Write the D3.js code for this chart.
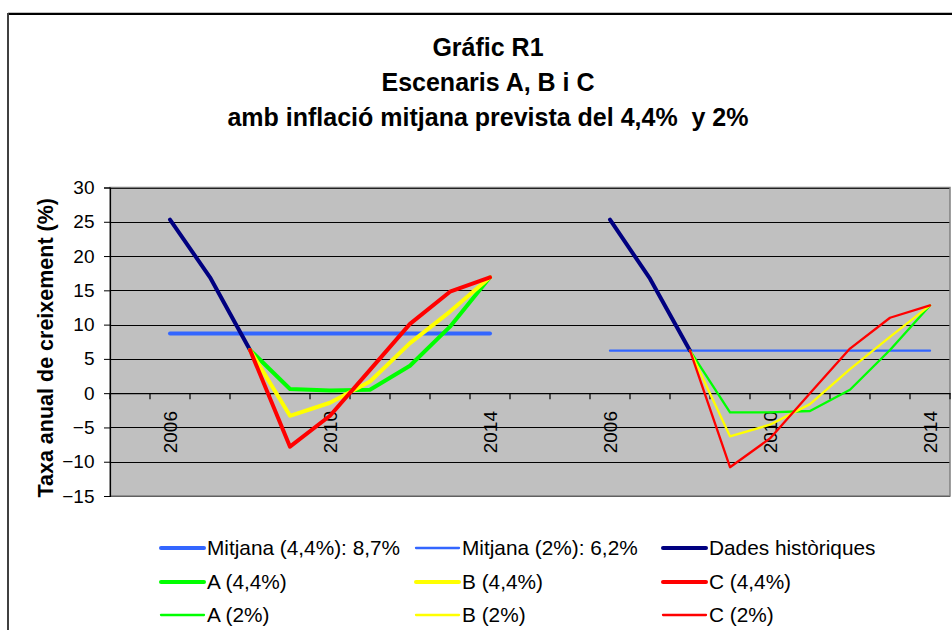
<!DOCTYPE html>
<html>
<head>
<meta charset="utf-8">
<script src="https://cdn.jsdelivr.net/npm/d3@7"></script>
<style>
  html, body { margin: 0; padding: 0; background: #fff; }
  svg { display: block; }
  text { font-family: "Liberation Sans", Arial, sans-serif; fill: #000; white-space: pre; }
</style>
</head>
<body>
<svg id="chart" width="952" height="630"></svg>
<script>
// ---------- DATA ----------
const titleLines = ["Gráfic R1", "Escenaris A, B i C", "amb inflació mitjana prevista del 4,4%  y 2%"];
const yAxisTitle = "Taxa anual de creixement (%)";

// 21 category slots: gap, 2006..2014 (4,4%), two gaps, 2006..2014 (2%)
const categories = ["g0",
  "2006a","2007a","2008a","2009a","2010a","2011a","2012a","2013a","2014a",
  "g1","g2",
  "2006b","2007b","2008b","2009b","2010b","2011b","2012b","2013b","2014b"];
const tickLabels = ["",
  "2006","","","","2010","","","","2014",
  "","",
  "2006","","","","2010","","","","2014"];
const yTicks = [30, 25, 20, 15, 10, 5, 0, -5, -10, -15];

const _ = null;
const mitjana44 = [_, 8.7, 8.7, 8.7, 8.7, 8.7, 8.7, 8.7, 8.7, 8.7, _, _, _, _, _, _, _, _, _, _, _];
const mitjana2  = [_, _, _, _, _, _, _, _, _, _, _, _, 6.2, 6.2, 6.2, 6.2, 6.2, 6.2, 6.2, 6.2, 6.2];
const historic  = [_, 25.3, 16.9, 6.3, _, _, _, _, _, _, _, _, 25.3, 16.7, 6.2, _, _, _, _, _, _];
const a44 = [_, _, _, 6.3, 0.6, 0.4, 0.5, 4.0, 9.7, 16.9, _, _, _, _, _, _, _, _, _, _, _];
const b44 = [_, _, _, 6.3, -3.3, -1.4, 1.7, 7.3, 11.9, 16.9, _, _, _, _, _, _, _, _, _, _, _];
const c44 = [_, _, _, 6.3, -7.8, -3.3, 3.4, 10.1, 14.8, 16.9, _, _, _, _, _, _, _, _, _, _, _];
const a2  = [_, _, _, _, _, _, _, _, _, _, _, _, _, _, 6.2, -2.8, -2.8, -2.6, 0.5, 6.3, 12.8];
const b2  = [_, _, _, _, _, _, _, _, _, _, _, _, _, _, 6.2, -6.3, -4.6, -1.6, 3.5, 8.2, 12.8];
const c2  = [_, _, _, _, _, _, _, _, _, _, _, _, _, _, 6.2, -10.8, -6.6, 0.0, 6.5, 11.0, 12.8];

const seriesNames = ["Mitjana (4,4%): 8,7%", "Mitjana (2%): 6,2%", "Dades històriques",
                     "A (4,4%)", "B (4,4%)", "C (4,4%)", "A (2%)", "B (2%)", "C (2%)"];
const seriesValues = [mitjana44, mitjana2, historic, a44, b44, c44, a2, b2, c2];
const seriesColors = ["#3366ff", "#3366ff", "#000080", "#00ff00", "#ffff00", "#ff0000", "#00ff00", "#ffff00", "#ff0000"];
const seriesWidths = [4, 2.3, 4, 4, 4, 4, 2.3, 2.3, 2.3];

// ---------- LAYOUT ----------
const svg = d3.select("#chart");
const plot = { left: 110, right: 950, top: 187.5, bottom: 496 };

const x = d3.scaleBand().domain(categories).range([plot.left, plot.right]).padding(0);
const y = d3.scaleLinear().domain([-15, 30]).range([plot.bottom, plot.top]);

// outer frame
svg.append("line").attr("x1", 8).attr("x2", 952).attr("y1", 12.5).attr("y2", 12.5)
  .attr("stroke", "#c0c0c0").attr("stroke-width", 1);
svg.append("line").attr("x1", 8).attr("x2", 952).attr("y1", 14).attr("y2", 14)
  .attr("stroke", "#000").attr("stroke-width", 2);
svg.append("line").attr("x1", 8).attr("x2", 8).attr("y1", 13).attr("y2", 630)
  .attr("stroke", "#404040").attr("stroke-width", 2);

// title
svg.append("g").selectAll("text").data(titleLines).join("text")
  .attr("x", 488).attr("y", (d, i) => 56 + i * 35)
  .attr("text-anchor", "middle")
  .attr("xml:space", "preserve")
  .style("font-size", "25px").style("font-weight", "bold")
  .text(d => d);

// plot background
svg.append("rect")
  .attr("x", plot.left).attr("y", plot.top)
  .attr("width", plot.right - plot.left).attr("height", plot.bottom - plot.top)
  .attr("fill", "#c0c0c0");

// gridlines via axis
const grid = svg.append("g").attr("transform", `translate(${plot.left},0)`)
  .call(d3.axisRight(y).tickValues(yTicks).tickSize(plot.right - plot.left).tickFormat(""));
grid.select(".domain").remove();
grid.selectAll("line").attr("stroke", "#000").attr("stroke-width", 1).attr("shape-rendering", "crispEdges");

// plot border (top/right gray)
svg.append("rect")
  .attr("x", plot.left).attr("y", plot.top)
  .attr("width", plot.right - plot.left).attr("height", plot.bottom - plot.top)
  .attr("fill", "none").attr("stroke", "#808080").attr("stroke-width", 1.5);

// y axis
const yAxis = svg.append("g").attr("transform", `translate(${plot.left},0)`)
  .call(d3.axisLeft(y).tickValues(yTicks).tickSize(6).tickPadding(9.5).tickFormat(d3.format("d")));
yAxis.select(".domain").attr("stroke", "#000").attr("stroke-width", 1.2);
yAxis.selectAll("line").attr("stroke", "#000");
yAxis.selectAll("text").style("font-size", "19px").style("font-family", "'Liberation Sans', Arial, sans-serif")
  .attr("fill", "#000");

// category axis at zero
const xAxis = svg.append("g").attr("transform", `translate(0,${y(0)})`)
  .call(d3.axisBottom(x).tickSize(0).tickFormat(""));
xAxis.select(".domain").attr("stroke", "#000").attr("stroke-width", 1.2);
// tick marks at category boundaries
const boundaries = categories.map(c => x(c)).concat([x(categories[categories.length - 1]) + x.bandwidth()]);
xAxis.selectAll("line.cb").data(boundaries).join("line").attr("class", "cb")
  .attr("x1", d => d).attr("x2", d => d).attr("y1", 0).attr("y2", 6)
  .attr("stroke", "#000").attr("stroke-width", 1.2);

// category labels (rotated)
svg.append("g").selectAll("text").data(categories.filter((c, i) => tickLabels[i] !== ""))
  .join("text")
  .attr("transform", c => `translate(${x(c) + x.bandwidth() / 2 + 7},411) rotate(-90)`)
  .attr("text-anchor", "end")
  .style("font-size", "19px")
  .text(c => tickLabels[categories.indexOf(c)]);

// y axis title
svg.append("text")
  .attr("transform", `translate(53,${(plot.top + plot.bottom) / 2 + 6}) rotate(-90)`)
  .attr("text-anchor", "middle")
  .style("font-size", "21.5px").style("font-weight", "bold")
  .text(yAxisTitle);

// series lines
const line = d3.line()
  .defined(d => d.v !== null)
  .x(d => x(d.c) + x.bandwidth() / 2)
  .y(d => y(d.v));

const gLines = svg.append("g");
seriesValues.forEach((vals, i) => {
  const pts = categories.map((c, j) => ({ c, v: vals[j] }));
  gLines.append("path")
    .attr("d", line(pts))
    .attr("fill", "none")
    .attr("stroke", seriesColors[i])
    .attr("stroke-width", seriesWidths[i])
    .attr("stroke-linejoin", "round")
    .attr("stroke-linecap", "round");
});

// legend
const legCols = [160, 415, 662];
const legRows = [548, 582, 615];
const leg = svg.append("g");
seriesNames.forEach((name, i) => {
  const cx = legCols[i % 3], cy = legRows[Math.floor(i / 3)];
  leg.append("line")
    .attr("x1", cx + 1).attr("x2", cx + 44).attr("y1", cy).attr("y2", cy)
    .attr("stroke", seriesColors[i]).attr("stroke-width", seriesWidths[i])
    .attr("stroke-linecap", "round");
  leg.append("text")
    .attr("x", cx + 47).attr("y", cy + 7)
    .style("font-size", "20.8px")
    .text(name);
});
</script>
</body>
</html>
